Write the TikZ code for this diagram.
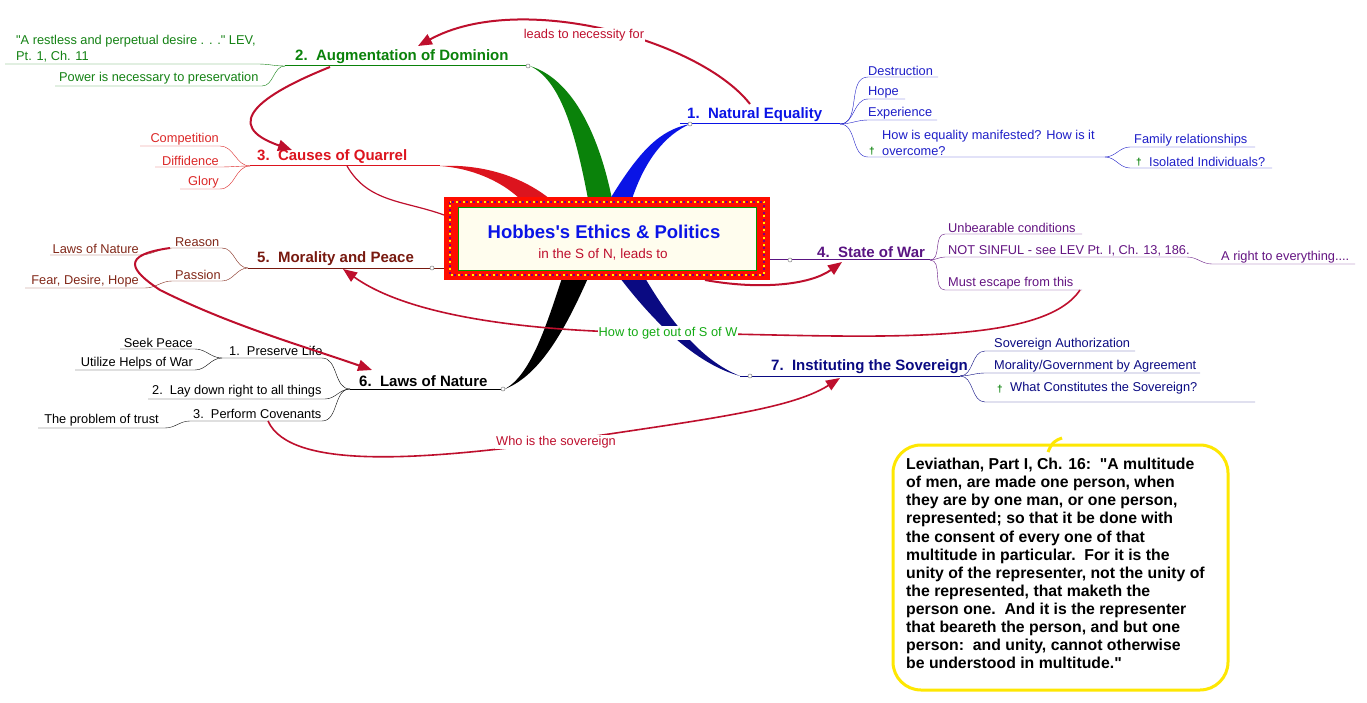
\documentclass[tikz,border=0pt]{standalone}
\usepackage{fontspec}
\setmainfont{Liberation Sans}[Ligatures=TeXOff]
\usetikzlibrary{arrows.meta}
\definecolor{cblue}{RGB}{10,20,230}
\definecolor{cgreen}{RGB}{10,130,10}
\definecolor{cred}{RGB}{220,20,30}
\definecolor{cpurple}{RGB}{90,20,130}
\definecolor{cbrown}{RGB}{120,25,15}
\definecolor{cnavy}{RGB}{10,10,130}
\definecolor{crel}{RGB}{190,15,45}
\definecolor{lblue}{RGB}{30,30,200}
\definecolor{lgreen}{RGB}{20,130,20}
\definecolor{lred}{RGB}{220,40,40}
\definecolor{lpurple}{RGB}{100,20,130}
\definecolor{lbrown}{RGB}{130,40,25}
\definecolor{cream}{RGB}{255,253,238}
\definecolor{relg}{RGB}{20,170,20}
\newcommand{\sq}{\symbol{34}}
\newcommand{\ap}{\symbol{39}}
\tikzset{
 lf/.style={font=\fontsize{12.8}{16}\selectfont, inner sep=1pt, text=#1},
 mainlbl/.style={font=\fontsize{15}{18}\selectfont\bfseries, inner sep=1pt, text=#1},
 rel/.style={draw=crel, line width=2pt, -{Triangle[length=14pt,width=11pt]}},
 rellbl/.style={font=\fontsize{12.8}{15}\selectfont, text=crel, fill=white, inner sep=1pt},
 knob/.style={draw=gray, fill=white, line width=0.5pt},
 keyic/.style={text=cgreen, font=\fontsize{10}{10}\selectfont\bfseries, inner sep=0},
}
\begin{document}
\begin{tikzpicture}[x=1pt,y=-1pt]
\useasboundingbox (0,0) rectangle (1367,703);
\fill[white] (0,0) rectangle (1367,703);

% ---------- tapered branches ----------
\fill[cred] (520,199) .. controls (500,180) and (470,168) .. (440,166) .. controls (480,164) and (520,175) .. (550,199) -- cycle;
\fill[cgreen] (588,199) .. controls (575,130) and (560,80) .. (530,66) .. controls (575,80) and (600,140) .. (612,199) -- cycle;
\fill[cblue] (610,199) .. controls (640,150) and (660,130) .. (690,124) .. controls (665,135) and (645,160) .. (632,199) -- cycle;
\fill[black] (562,278) .. controls (545,330) and (530,375) .. (505,389) .. controls (540,375) and (565,330) .. (588,278) -- cycle;
\fill[cnavy] (620,278) .. controls (660,330) and (700,365) .. (740,376) .. controls (700,360) and (670,320) .. (645,278) -- cycle;

% ---------- central node ----------
\fill[red!90!orange] (444,197) rectangle (770,280);
\draw[violet, line width=2.5pt, dash pattern=on 2pt off 5pt] (450,202) rectangle (764,275);
\draw[yellow, line width=2pt, dash pattern=on 2pt off 5pt, dash phase=3.5pt] (450,202) rectangle (764,275);
\filldraw[fill=cream, draw=green!60!black, line width=1pt] (458,208) rectangle (756,270);
\node[font=\fontsize{18.5}{20}\selectfont\bfseries, text=cblue] (root) at (604,232) {Hobbes\ap s Ethics \& Politics};
\node[font=\fontsize{13.5}{15}\selectfont, text=crel] (rootsub) at (603,254) {in the S of N, leads to};

% ---------- Branch 1 ----------
\node[mainlbl=cblue, anchor=south west] (b1) at (686,123) {1.\ \ Natural Equality};
\draw[cblue, line width=1pt] (680,124) -- (840,124) coordinate (j1);
\draw[knob] (690,124) circle (2);
\node[lf=lblue, anchor=south west] (d1) at (867,77) {Destruction};
\node[lf=lblue, anchor=south west] (d2) at (867,99) {Hope};
\node[lf=lblue, anchor=south west] (d3) at (867,120) {Experience};
\node[lf=lblue, anchor=south west, align=left] (d4) at (881,157) {How is equality manifested? How is it\\overcome?};
\node[keyic] (k1) at (872,151) {\char"2020};
\draw[lblue] (j1) to[out=0,in=180] (868,77) -- (938,77);
\draw[lblue] (j1) to[out=0,in=180] (868,99) -- (905,99);
\draw[lblue] (j1) to[out=0,in=180] (868,120) -- (937,120);
\draw[lblue] (j1) to[out=0,in=180] (868,157) -- (1105,157) coordinate (j1b);
\node[lf=lblue, anchor=south west] (e1) at (1133,147) {Family relationships};
\node[lf=lblue, anchor=south west] (e2) at (1148,168) {Isolated Individuals?};
\node[keyic] (k2) at (1139,162) {\char"2020};
\draw[lblue] (j1b) to[out=0,in=180] (1130,147) -- (1255,147);
\draw[lblue] (j1b) to[out=0,in=180] (1130,168) -- (1272,168);

% ---------- Branch 2 ----------
\node[mainlbl=cgreen, anchor=south west] (b2) at (294,65) {2.\ \ Augmentation of Dominion};
\draw[cgreen, line width=1pt] (285,66) coordinate (j2) -- (530,66);
\draw[knob] (528,66) circle (2);
\node[lf=lgreen, anchor=south west, align=left] (g1) at (15,63) {\sq A restless and perpetual desire . . .\sq{} LEV,\\Pt. 1, Ch. 11};
\node[lf=lgreen, anchor=south west] (g2) at (58,85) {Power is necessary to preservation};
\draw[lgreen] (j2) to[out=180,in=0] (258,64) -- (5,64);
\draw[lgreen] (j2) to[out=180,in=0] (262,86) -- (55,86);

% ---------- Branch 3 ----------
\node[mainlbl=cred, anchor=south west] (b3) at (256,165) {3.\ \ Causes of Quarrel};
\draw[cred, line width=1pt] (250,166) coordinate (j3) -- (440,166);
\node[lf=lred, anchor=south east] (c1) at (220,146) {Competition};
\node[lf=lred, anchor=south east] (c2) at (220,167) {Diffidence};
\node[lf=lred, anchor=south east] (c3) at (220,189) {Glory};
\draw[lred] (j3) to[out=180,in=0] (220,146) -- (140,146);
\draw[lred] (j3) to[out=180,in=0] (220,167) -- (155,167);
\draw[lred] (j3) to[out=180,in=0] (220,189) -- (180,189);
\draw[crel, line width=1.2pt] (347,166) to[out=-60,in=160] (444,215);

% ---------- Branch 4 ----------
\node[mainlbl=cpurple, anchor=south west] (b4) at (816,259) {4.\ \ State of War};
\draw[cpurple, line width=1pt] (770,260) -- (930,260) coordinate (j4);
\draw[knob] (790,260) circle (2);
\node[lf=lpurple, anchor=south west] (w1) at (947,234) {Unbearable conditions};
\node[lf=lpurple, anchor=south west] (w2) at (947,257) {NOT SINFUL - see LEV Pt. I, Ch. 13, 186.};
\node[lf=lpurple, anchor=south west] (w3) at (1220,264) {A right to everything....};
\node[lf=lpurple, anchor=south west] (w4) at (947,290) {Must escape from this};
\draw[lpurple] (j4) to[out=0,in=180] (945,234) -- (1082,234);
\draw[lpurple] (j4) to[out=0,in=180] (945,257) -- (1187,257) to[out=0,in=180] (1212,264) -- (1355,264);
\draw[lpurple] (j4) to[out=0,in=180] (945,290) -- (1082,290);

% ---------- Branch 5 ----------
\node[mainlbl=cbrown, anchor=south west] (b5) at (256,267) {5.\ \ Morality and Peace};
\draw[cbrown, line width=1pt] (248,268) coordinate (j5) -- (444,268);
\draw[knob] (432,268) circle (2);
\node[lf=lbrown, anchor=south west] (m1) at (174,248) {Reason};
\node[lf=lbrown, anchor=south west] (m2) at (174,281) {Passion};
\node[lf=lbrown, anchor=south east] (m3) at (140,255) {Laws of Nature};
\node[lf=lbrown, anchor=south east] (m4) at (140,288) {Fear, Desire, Hope};
\draw[lbrown] (j5) to[out=180,in=0] (222,248) -- (172,248) to[out=180,in=0] (140,255) -- (50,255);
\draw[lbrown] (j5) to[out=180,in=0] (222,281) -- (172,281) to[out=180,in=0] (145,288) -- (25,288);

% ---------- Branch 6 ----------
\node[mainlbl=black, anchor=south west] (b6) at (358,388) {6.\ \ Laws of Nature};
\draw[black, line width=1pt] (350,389) coordinate (j6) -- (505,389);
\draw[knob] (503,389) circle (2);
\node[lf=black, anchor=south west] (l1) at (228,357) {1.\ \ Preserve Life};
\node[lf=black, anchor=south east] (l1a) at (194,349) {Seek Peace};
\node[lf=black, anchor=south east] (l1b) at (194,370) {Utilize Helps of War};
\node[lf=black, anchor=south west] (l2) at (151,398) {2.\ \ Lay down right to all things};
\node[lf=black, anchor=south west] (l3) at (192,420) {3.\ \ Perform Covenants};
\node[lf=black, anchor=south east] (l3a) at (160,427) {The problem of trust};
\draw (j6) to[out=180,in=0] (322,358) -- (222,358) coordinate (j6a);
\draw (j6a) to[out=180,in=0] (195,349) -- (120,349);
\draw (j6a) to[out=180,in=0] (195,370) -- (75,370);
\draw (j6) to[out=180,in=0] (325,399) -- (148,399);
\draw (j6) to[out=180,in=0] (322,421) -- (190,421) to[out=180,in=0] (165,428) -- (38,428);

% ---------- Branch 7 ----------
\node[mainlbl=cnavy, anchor=south west] (b7) at (770,375) {7.\ \ Instituting the Sovereign};
\draw[cnavy, line width=1pt] (740,376) -- (960,376) coordinate (j7);
\draw[knob] (750,376) circle (2);
\node[lf=cnavy, anchor=south west] (s1) at (993,351) {Sovereign Authorization};
\node[lf=cnavy, anchor=south west] (s2) at (993,373) {Morality/Government by Agreement};
\node[lf=cnavy, anchor=south west] (s3) at (1009,395) {What Constitutes the Sovereign?};
\node[keyic] (k3) at (1000,389) {\char"2020};
\draw[cnavy] (j7) to[out=0,in=180] (985,351) -- (1135,351);
\draw[cnavy] (j7) to[out=0,in=180] (985,373) -- (1200,373);
\draw[cnavy] (j7) to[out=0,in=180] (985,402) -- (1255,402);

% ---------- relationship arrows ----------
\coordinate (r1s) at (750,104);
\coordinate (r1e) at (418,46);
\draw[rel] (r1s) .. controls (700,40) and (520,-10) .. (r1e);
\node[rellbl] (r1l) at (584,35) {leads to necessity for};

\coordinate (r2s) at (330,67);
\coordinate (r2e) at (292,150);
\draw[rel] (r2s) .. controls (260,95) and (220,125) .. (r2e);

\coordinate (r3s) at (705,280);
\coordinate (r3e) at (842,262);
\draw[rel] (r3s) .. controls (760,290) and (810,285) .. (r3e);

\coordinate (r4s) at (1080,290);
\coordinate (r4m) at (668,333);
\coordinate (r4e) at (343,269);
\draw[crel, line width=1.6pt] (r4s) .. controls (1040,350) and (850,335) .. (r4m);
\draw[rel, line width=1.6pt] (r4m) .. controls (500,332) and (400,310) .. (r4e);
\node[font=\fontsize{12.8}{15}\selectfont, text=relg, fill=white, inner sep=1pt] (r4l) at (668,333) {How to get out of S of W};

\coordinate (r5s) at (170,248);
\coordinate (r5e) at (372,370);
\draw[rel] (r5s) .. controls (120,255) and (130,270) .. (160,290) .. controls (230,325) and (300,345) .. (r5e);

\coordinate (r6s) at (268,421);
\coordinate (r6m) at (556,442);
\coordinate (r6e) at (840,378);
\draw[crel, line width=1.6pt] (r6s) .. controls (290,470) and (420,460) .. (r6m);
\draw[rel, line width=1.6pt] (r6m) .. controls (700,420) and (790,410) .. (r6e);
\node[rellbl] (r6l) at (556,442) {Who is the sovereign};

% ---------- yellow note ----------
\draw[yellow!90!orange, line width=3pt, rounded corners=28pt] (893,445) rectangle (1228,690);
\draw[yellow!90!orange, line width=3pt] (1048,452) .. controls (1052,442) and (1056,440) .. (1062,438);
\node[anchor=north west, align=left, font=\fontsize{15.8}{18.1}\selectfont\bfseries, inner sep=0] (note) at (906,458) {Leviathan, Part I, Ch. 16:\ \ \sq A multitude\\of men, are made one person, when\\they are by one man, or one person,\\represented; so that it be done with\\the consent of every one of that\\multitude in particular.\ \ For it is the\\unity of the representer, not the unity of\\the represented, that maketh the\\person one.\ \ And it is the representer\\that beareth the person, and but one\\person:\ \ and unity, cannot otherwise\\be understood in multitude.\sq};
\end{tikzpicture}
\end{document}
